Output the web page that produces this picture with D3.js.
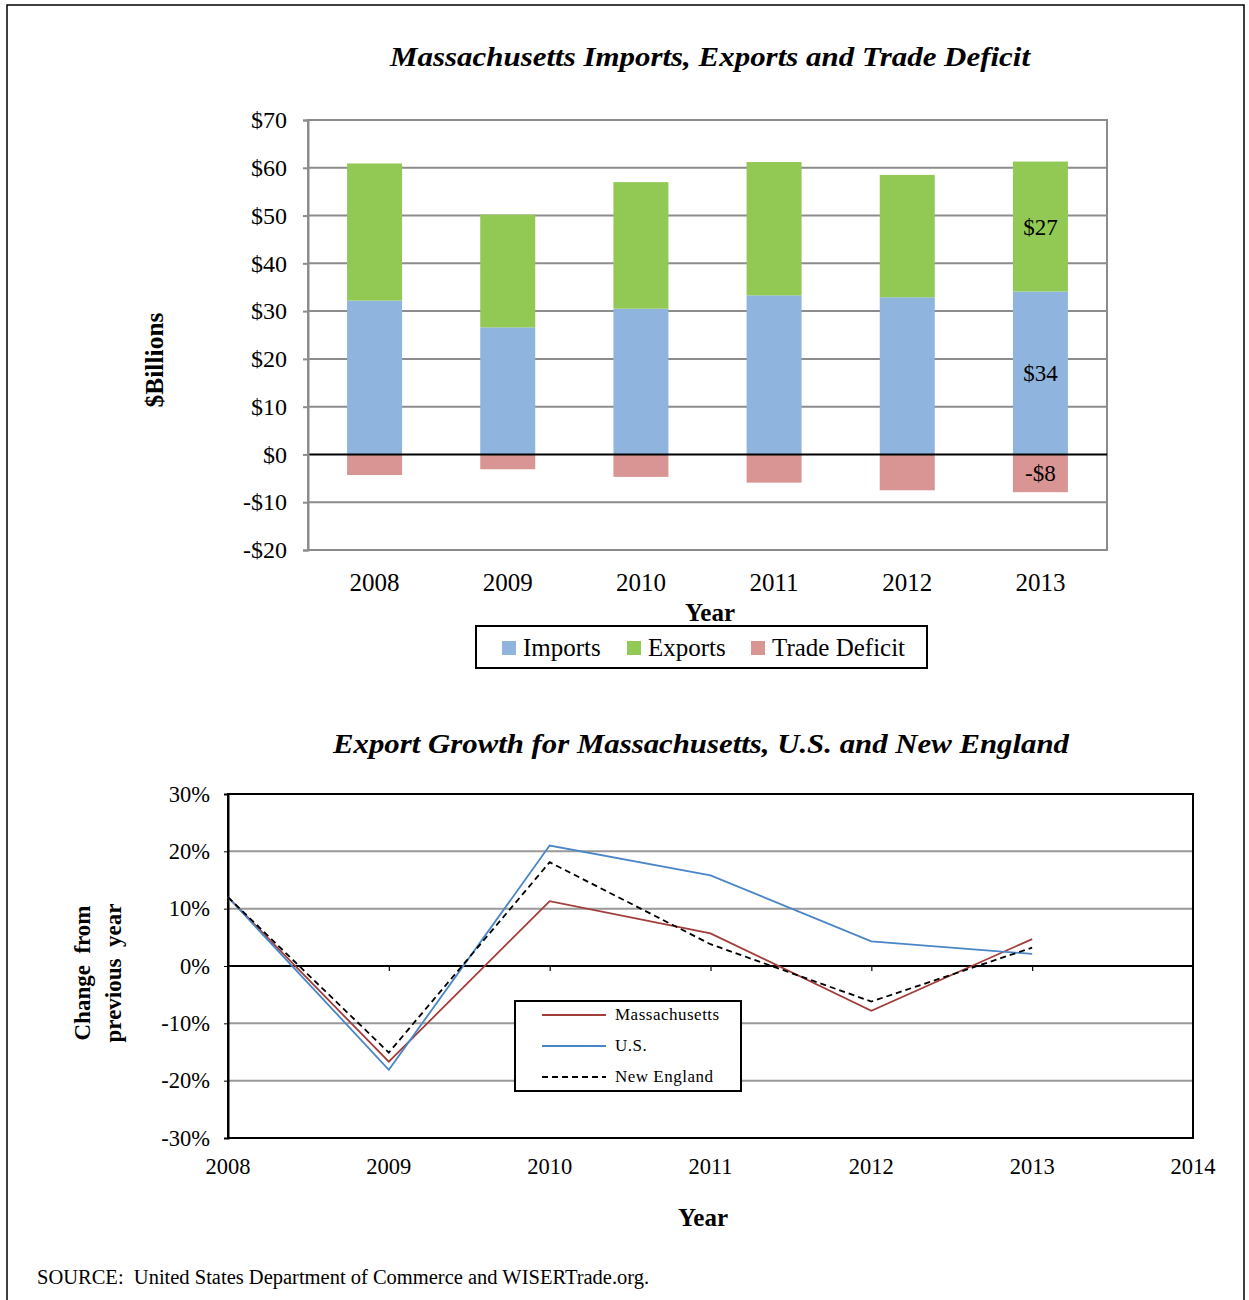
<!DOCTYPE html>
<html><head><meta charset="utf-8">
<script src="https://cdn.jsdelivr.net/npm/d3@7"></script>
<style>
body{margin:0;background:#fff;}
svg text{font-family:"Liberation Serif","Times New Roman",serif;fill:#000;}
</style></head>
<body>
<svg id="c" width="1249" height="1300"></svg>
<script>
// ---- Data: top chart ----
const years = ["2008","2009","2010","2011","2012","2013"];
const imports = [32.2, 26.6, 30.5, 33.3, 32.9, 34.1];
const exports = [28.7, 23.6, 26.5, 27.9, 25.6, 27.2];
const deficit = [-4.3, -3.1, -4.7, -5.9, -7.5, -7.9];
const topTicks = [-20,-10,0,10,20,30,40,50,60,70];
const barLabels = [{series:"exports", year:"2013", text:"$27"},
                   {series:"imports", year:"2013", text:"$34"},
                   {series:"deficit", year:"2013", text:"-$8"}];

// ---- Data: bottom chart ----
const growthYears = [2008, 2009, 2010, 2011, 2012, 2013];
const massGrowth = [12.0, -16.7, 11.3, 5.7, -7.8, 4.7];
const usGrowth   = [12.0, -18.1, 21.0, 15.8, 4.3, 2.1];
const neGrowth   = [12.0, -15.1, 18.1, 3.8, -6.2, 3.2];
const pctTicks = [-30,-20,-10,0,10,20,30];
const yearTicks = [2008,2009,2010,2011,2012,2013,2014];

const svg = d3.select("#c");
const serif = '"Liberation Serif","Times New Roman",serif';

// outer frame
svg.append("rect").attr("x",7).attr("y",5).attr("width",1237).attr("height",1310)
  .attr("fill","none").attr("stroke","#000").attr("stroke-width",1.5);

// ================= TOP CHART =================
const T = {l:308, r:1107, t:120, b:550};
const x1 = d3.scaleBand().domain(years).range([T.l,T.r]).paddingInner(0.587).paddingOuter(0.2935);
const y1 = d3.scaleLinear().domain([-20,70]).range([T.b,T.t]);
const gTop = svg.append("g");

svg.append("text").attr("x",710).attr("y",66).attr("text-anchor","middle")
  .attr("font-size",28).attr("font-weight","bold").attr("font-style","italic")
  .attr("textLength",640).attr("lengthAdjust","spacingAndGlyphs")
  .text("Massachusetts Imports, Exports and Trade Deficit");

// gridlines
gTop.selectAll("line.grid").data(topTicks.filter(d=>d!==0 && d!==-20 && d!==70)).enter()
  .append("line").attr("x1",T.l).attr("x2",T.r).attr("y1",d=>y1(d)).attr("y2",d=>y1(d))
  .attr("stroke","#8c8c8c").attr("stroke-width",2);
// plot border
gTop.append("rect").attr("x",T.l).attr("y",T.t).attr("width",T.r-T.l).attr("height",T.b-T.t)
  .attr("fill","none").attr("stroke","#8c8c8c").attr("stroke-width",2);

// bars
const segs = [];
years.forEach((yr,i)=>{
  segs.push({yr, s:"imports", y0:0, y1:imports[i], c:"#8fb4de"});
  segs.push({yr, s:"exports", y0:imports[i], y1:imports[i]+exports[i], c:"#92c854"});
  segs.push({yr, s:"deficit", y0:0, y1:deficit[i], c:"#d99594"});
});
gTop.selectAll("rect.bar").data(segs).enter().append("rect")
  .attr("x",d=>x1(d.yr)).attr("width",x1.bandwidth())
  .attr("y",d=>y1(Math.max(d.y0,d.y1))).attr("height",d=>Math.abs(y1(d.y0)-y1(d.y1)))
  .attr("fill",d=>d.c);

// zero line
gTop.append("line").attr("x1",T.l).attr("x2",T.r).attr("y1",y1(0)).attr("y2",y1(0))
  .attr("stroke","#000").attr("stroke-width",2);

// bar labels
gTop.selectAll("text.bl").data(barLabels).enter().append("text")
  .attr("x",d=>x1(d.year)+x1.bandwidth()/2)
  .attr("y",d=>{const s=segs.find(q=>q.yr===d.year&&q.s===d.series);return y1((s.y0+s.y1)/2);})
  .attr("dy","0.35em").attr("text-anchor","middle").attr("font-size",23).text(d=>d.text);

// y axis
const yAx1 = gTop.append("g").attr("transform",`translate(${T.l},0)`)
  .call(d3.axisLeft(y1).tickValues(topTicks).tickFormat(d=>(d<0?"-$"+(-d):"$"+d)).tickSize(5).tickPadding(16));
yAx1.select(".domain").attr("stroke","#8c8c8c").attr("stroke-width",2);
yAx1.selectAll(".tick line").attr("stroke","#8c8c8c").attr("stroke-width",2);
yAx1.selectAll("text").attr("font-size",24).attr("font-family",serif);

// x labels
gTop.selectAll("text.xl").data(years).enter().append("text")
  .attr("x",d=>x1(d)+x1.bandwidth()/2).attr("y",591).attr("text-anchor","middle")
  .attr("font-size",25).text(d=>d);
gTop.append("text").attr("x",710).attr("y",621).attr("text-anchor","middle")
  .attr("font-size",25).attr("font-weight","bold").text("Year");
gTop.append("text").attr("transform","translate(163,360) rotate(-90)").attr("text-anchor","middle")
  .attr("font-size",25.5).attr("font-weight","bold").text("$Billions");

// legend
const lg = gTop.append("g");
lg.append("rect").attr("x",476).attr("y",626).attr("width",451).attr("height",42)
  .attr("fill","#fff").attr("stroke","#000").attr("stroke-width",2);
const legItems = [{t:"Imports",c:"#8fb4de",x:502},{t:"Exports",c:"#92c854",x:627},{t:"Trade Deficit",c:"#d99594",x:751}];
legItems.forEach(d=>{
  lg.append("rect").attr("x",d.x).attr("y",641).attr("width",14).attr("height",14).attr("fill",d.c);
  lg.append("text").attr("x",d.x+21).attr("y",656).attr("font-size",25).text(d.t);
});

// ================= BOTTOM CHART =================
const B = {l:228, r:1193, t:794, b:1138};
const x2 = d3.scaleLinear().domain([2008,2014]).range([B.l,B.r]);
const y2 = d3.scaleLinear().domain([-30,30]).range([B.b,B.t]);
const gB = svg.append("g");

svg.append("text").attr("x",701).attr("y",753).attr("text-anchor","middle")
  .attr("font-size",28).attr("font-weight","bold").attr("font-style","italic")
  .attr("textLength",736).attr("lengthAdjust","spacingAndGlyphs")
  .text("Export Growth for Massachusetts, U.S. and New England");

gB.selectAll("line.grid").data(pctTicks.filter(d=>d!==0&&d!==30&&d!==-30)).enter()
  .append("line").attr("x1",B.l).attr("x2",B.r).attr("y1",d=>y2(d)).attr("y2",d=>y2(d))
  .attr("stroke","#999").attr("stroke-width",2);
gB.append("rect").attr("x",B.l).attr("y",B.t).attr("width",B.r-B.l).attr("height",B.b-B.t)
  .attr("fill","none").attr("stroke","#000").attr("stroke-width",2);

// zero axis with ticks
const xAx2 = gB.append("g").attr("transform",`translate(0,${y2(0)})`)
  .call(d3.axisBottom(x2).tickValues(yearTicks.slice(1,6)).tickFormat("").tickSize(5));
xAx2.select(".domain").remove();
xAx2.selectAll(".tick line").attr("stroke","#000").attr("stroke-width",1.2);
gB.append("line").attr("x1",B.l).attr("x2",B.r).attr("y1",y2(0)).attr("y2",y2(0))
  .attr("stroke","#000").attr("stroke-width",2);

// y axis labels
const yAx2 = gB.append("g").attr("transform",`translate(${B.l},0)`)
  .call(d3.axisLeft(y2).tickValues(pctTicks).tickFormat(d=>d+"%").tickSize(4).tickPadding(14));
yAx2.select(".domain").attr("stroke","#000").attr("stroke-width",2);
yAx2.selectAll(".tick line").attr("stroke","#000");
yAx2.selectAll("text").attr("font-size",22.5).attr("font-family",serif);

// x labels
gB.selectAll("text.xl").data(yearTicks).enter().append("text")
  .attr("x",d=>x2(d)).attr("y",1174).attr("text-anchor","middle").attr("font-size",22.5).text(d=>d);
gB.append("text").attr("x",703).attr("y",1226).attr("text-anchor","middle")
  .attr("font-size",25).attr("font-weight","bold").text("Year");
const yt = gB.append("text").attr("transform","translate(0,973) rotate(-90)").attr("text-anchor","middle")
  .attr("font-size",23).attr("font-weight","bold");
yt.append("tspan").attr("x",0).attr("y",90).attr("xml:space","preserve").text("Change  from");
yt.append("tspan").attr("x",0).attr("y",121).attr("xml:space","preserve").text("previous  year");

// lines
const series = [
  {name:"Massachusetts", vals:massGrowth, c:"#a13d3a", dash:null, w:1.8},
  {name:"U.S.", vals:usGrowth, c:"#4a86c6", dash:null, w:1.8},
  {name:"New England", vals:neGrowth, c:"#000", dash:"6,4", w:1.8}
];
const line = d3.line().x(d=>x2(d[0])).y(d=>y2(d[1]));
series.forEach(s=>{
  gB.append("path").datum(growthYears.map((yr,i)=>[yr,s.vals[i]]))
    .attr("d",line).attr("fill","none").attr("stroke",s.c).attr("stroke-width",s.w)
    .attr("stroke-dasharray",s.dash);
});

// legend
const lg2 = gB.append("g");
lg2.append("rect").attr("x",515).attr("y",1001).attr("width",226).attr("height",90)
  .attr("fill","#fff").attr("stroke","#000").attr("stroke-width",2);
series.forEach((s,i)=>{
  const yy = 1015 + i*31;
  lg2.append("line").attr("x1",542).attr("x2",606).attr("y1",yy).attr("y2",yy)
    .attr("stroke",s.c).attr("stroke-width",s.w).attr("stroke-dasharray",s.dash);
  lg2.append("text").attr("x",615).attr("y",yy+5).attr("font-size",17).attr("letter-spacing",0.5).text(s.name);
});

// source
svg.append("text").attr("x",37).attr("y",1284).attr("font-size",20.5)
  .attr("xml:space","preserve").text("SOURCE:  United States Department of Commerce and WISERTrade.org.");
</script>
</body></html>
